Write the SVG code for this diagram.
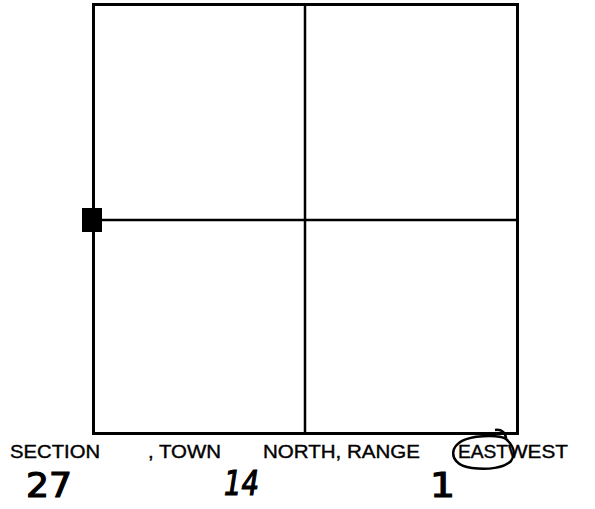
<svg xmlns="http://www.w3.org/2000/svg" width="595" height="509" viewBox="0 0 595 509">
<style>
.lbl{font-family:"Liberation Sans",Arial,sans-serif;font-size:19px;fill:#000;stroke:#000;stroke-width:0.4}
.hand{font-family:"DejaVu Sans",sans-serif;font-size:33px;fill:#000;stroke:#000;stroke-width:1.2}
.ln{stroke:#000;fill:none}
</style>
<rect width="595" height="509" fill="#fff"/>
<g id="section-grid">
<rect x="93.5" y="4.5" width="424" height="429" class="ln" stroke-width="3"/>
<line x1="305" y1="5" x2="305" y2="433" class="ln" stroke-width="2.5"/>
<line x1="94" y1="220" x2="517" y2="220" class="ln" stroke-width="2.5"/>
</g>
<g id="marker">
<rect x="82" y="208" width="20" height="24" fill="#000"/>
</g>
<g id="labels">
<text class="lbl" x="10" y="458" textLength="90" lengthAdjust="spacingAndGlyphs">SECTION</text>
<text class="lbl" x="148" y="458" textLength="73" lengthAdjust="spacingAndGlyphs">, TOWN</text>
<text class="lbl" x="263" y="458" textLength="157" lengthAdjust="spacingAndGlyphs">NORTH, RANGE</text>
<text class="lbl" x="458" y="458" textLength="50" lengthAdjust="spacingAndGlyphs">EAST</text>
<text class="lbl" x="508" y="458" textLength="60" lengthAdjust="spacingAndGlyphs">WEST</text>
</g>
<g id="handwriting">
<text class="hand" x="26" y="497" textLength="46" lengthAdjust="spacingAndGlyphs">27</text>
<text class="hand" x="224" y="495" textLength="35" lengthAdjust="spacingAndGlyphs" font-style="italic">14</text>
<text class="hand" x="430" y="497" textLength="25" lengthAdjust="spacingAndGlyphs">1</text>
<path class="ln" stroke-width="2.5" d="M506,439 C514,446 516,454 511,461 C504,468 488,470 472,468 C457,466 451,458 454,449 C458,440 472,436 490,436 C498,436 503,437 506,439 M506,439 C506,433 502,429 495,430"/>
</g>
</svg>
